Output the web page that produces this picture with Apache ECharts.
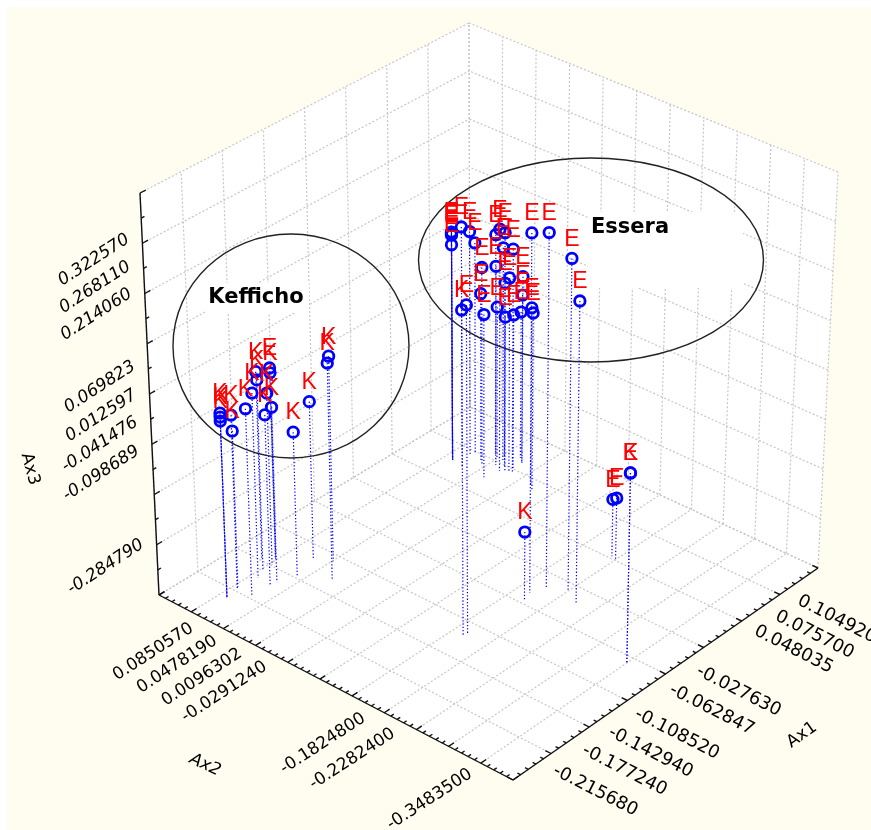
<!DOCTYPE html><html><head><meta charset="utf-8"><script src="https://cdn.jsdelivr.net/npm/echarts@6/dist/echarts.min.js"></script>
<style>html,body{margin:0;background:#fff}#c{width:871px;height:830px}</style></head><body><div id="c"></div>
<script>
// Data: each group's scores on the three axes
const esseraAx1=[0.077,0.077,0.077,0.077,0.077,0.073,0.093,0.098,0.107,0.090,0.112,-0.034,-0.020,-0.009,-0.021,0.087,0.095,0.105,0.096,0.110,0.094,0.099,0.113,0.093,-0.114,0.074,0.104,0.092,0.101,0.117,0.086,0.091,0.053,0.052,-0.058,-0.139];
const esseraAx2=[0.088,0.088,0.088,0.088,0.088,0.068,0.080,0.078,0.057,0.030,0.049,-0.168,-0.177,-0.198,-0.225,0.054,0.042,0.043,0.017,0.019,0.020,0.033,0.023,0.063,-0.167,0.035,0.051,0.024,0.022,0.030,-0.026,-0.018,-0.192,-0.199,-0.349,0.103];
const esseraAx3=[0.069,0.067,0.065,0.063,0.043,0.095,0.060,0.033,0.054,0.097,0.058,0.321,0.314,0.264,0.206,0.007,0.009,0.037,0.058,-0.013,-0.001,-0.024,-0.056,-0.058,0.251,-0.066,-0.089,-0.082,-0.085,-0.099,-0.038,-0.037,-0.285,-0.277,-0.026,-0.018];
const keffichoAx1=[-0.058,-0.119,-0.045,-0.213,-0.213,-0.213,-0.198,-0.194,-0.195,-0.172,-0.160,-0.149,-0.173,-0.166,-0.149,-0.141,-0.148,-0.119,-0.109,-0.131];
const keffichoAx2=[-0.349,-0.166,-0.173,0.089,0.089,0.089,0.091,0.095,0.072,0.090,0.097,0.112,0.070,0.068,0.096,0.100,0.058,0.068,0.049,0.024];
const keffichoAx3=[-0.026,0.245,-0.264,-0.032,-0.040,-0.048,-0.051,-0.089,-0.029,-0.030,-0.019,-0.022,-0.060,-0.050,-0.055,-0.024,-0.110,-0.082,0.012,0.034];
const ax1Labels=[-0.21568,-0.17724,-0.14294,-0.10852,-0.062847,-0.02763,0.048035,0.0757,0.10492];
const ax1Text=['-0.215680','-0.177240','-0.142940','-0.108520','-0.062847','-0.027630','0.048035','0.075700','0.104920'];
const ax2Labels=[0.085057,0.047819,0.0096302,-0.029124,-0.18248,-0.22824,-0.34835];
const ax2Text=['0.0850570','0.0478190','0.0096302','-0.0291240','-0.1824800','-0.2282400','-0.3483500'];
const ax3Labels=[0.32257,0.26811,0.21406,0.069823,0.012597,-0.041476,-0.098689,-0.28479];
const ax3Text=['0.322570','0.268110','0.214060','0.069823','0.012597','-0.041476','-0.098689','-0.284790'];
const ax1Range=[-0.25,0.15], ax2Range=[-0.4,0.15], ax3Range=[-0.4,0.4];
const ax1Step=0.05, ax2Step=0.05, ax3Step=0.1;

// Camera: where the eight box corners land in the picture
const floorC={F:[513,780],R:[818,568],L:[159,595],B:[470,407]};
const liftC={F:[0,-415],R:[20,-396],L:[-19,-402],B:[-1,-384]};
function bil(C,u,v,i){return C.F[i]*(1-u)*(1-v)+C.R[i]*u*(1-v)+C.L[i]*(1-u)*v+C.B[i]*u*v;}
function project(a1,a2,a3){
  const u=(a1-ax1Range[0])/(ax1Range[1]-ax1Range[0]),v=(a2-ax2Range[0])/(ax2Range[1]-ax2Range[0]),w=(a3-ax3Range[0])/(ax3Range[1]-ax3Range[0]);
  return [bil(floorC,u,v,0)+w*bil(liftC,u,v,0),bil(floorC,u,v,1)+w*bil(liftC,u,v,1)];
}
function steps(r,s,sub){const o=[];const n=Math.round((r[1]-r[0])/s*sub);for(let i=0;i<=n;i++)o.push({v:r[0]+(r[1]-r[0])*i/n,major:i%sub===0});return o;}
const [a1a,a1b]=ax1Range,[a2a,a2b]=ax2Range,[a3a,a3b]=ax3Range;
const seg=(p,q)=>[...project(...p),...project(...q)];

const faces=[
 [[a1a,a2a,a3a],[a1b,a2a,a3a],[a1b,a2b,a3a],[a1a,a2b,a3a]],
 [[a1a,a2b,a3a],[a1b,a2b,a3a],[a1b,a2b,a3b],[a1a,a2b,a3b]],
 [[a1b,a2a,a3a],[a1b,a2b,a3a],[a1b,a2b,a3b],[a1b,a2a,a3b]]
].map(f=>f.flatMap(p=>project(...p)));

const gridSegs=[];
steps(ax1Range,ax1Step,1).forEach(t=>{gridSegs.push(seg([t.v,a2a,a3a],[t.v,a2b,a3a]));gridSegs.push(seg([t.v,a2b,a3a],[t.v,a2b,a3b]));});
steps(ax2Range,ax2Step,1).forEach(t=>{gridSegs.push(seg([a1a,t.v,a3a],[a1b,t.v,a3a]));gridSegs.push(seg([a1b,t.v,a3a],[a1b,t.v,a3b]));});
steps(ax3Range,ax3Step,1).forEach(t=>{gridSegs.push(seg([a1a,a2b,t.v],[a1b,a2b,t.v]));gridSegs.push(seg([a1b,a2a,t.v],[a1b,a2b,t.v]));});

const axisSegs=[seg([a1a,a2b,a3b],[a1a,a2b,a3a]),seg([a1a,a2b,a3a],[a1a,a2a,a3a]),seg([a1a,a2a,a3a],[a1b,a2a,a3a])];
steps(ax1Range,ax1Step,5).forEach(t=>axisSegs.push(seg([t.v,a2a,a3a],[t.v,a2a+(t.major?0.009:0.005),a3a])));
steps(ax2Range,ax2Step,5).forEach(t=>axisSegs.push(seg([a1a,t.v,a3a],[a1a+(t.major?0.007:0.004),t.v,a3a])));
steps(ax3Range,ax3Step,2).forEach(t=>axisSegs.push(seg([a1a,a2b,t.v],[a1a+(t.major?0.007:0.004),a2b,t.v])));

const dropE=esseraAx1.map((a,i)=>seg([a,esseraAx2[i],esseraAx3[i]],[a,esseraAx2[i],a3a]));
const dropK=keffichoAx1.map((a,i)=>seg([a,keffichoAx2[i],keffichoAx3[i]],[a,keffichoAx2[i],a3a]));
const ptsE=esseraAx1.map((a,i)=>project(a,esseraAx2[i],esseraAx3[i]));
const ptsK=keffichoAx1.map((a,i)=>project(a,keffichoAx2[i],keffichoAx3[i]));

const FONT='"DejaVu Sans"', BLUE='#0000ff', RED='#ff0000';
const rad=d=>d*Math.PI/180;
const tickTexts=[
 ...ax1Labels.map((v,i)=>({value:project(v,a2a,a3a),t:ax1Text[i],dx:15,dy:8,rot:-27,align:'left',size:18})),
 ...ax2Labels.map((v,i)=>({value:project(a1a,v,a3a),t:ax2Text[i],dx:-9,dy:10,rot:33,align:'right'})),
 ...ax3Labels.map((v,i)=>({value:project(a1a,a2b,v),t:ax3Text[i],dx:-14,dy:6,rot:33,align:'right',italic:true})),
];
const axisTitles=[
 {value:[802,735],t:'Ax1',rot:35},
 {value:[205,765],t:'Ax2',rot:-25,italic:true},
 {value:[30,469],t:'Ax3',rot:-75},
];
const maskBoxes=[[588,212,155,76],[205,283,104,30]];
const groupRings=[[291,346,118,112],[591,260,172.5,102]];
const groupNames=[{value:[630,228],t:'Essera'},{value:[256,298],t:'Kefficho'}];
const pointLabels=[...ptsK.map(p=>({value:p,t:'K',dy:-19,color:RED,family:'"Liberation Sans"'})),...ptsE.map(p=>({value:p,t:'E',dy:-19,color:RED,family:'"Liberation Sans"'}))];

function segmentSeries(name,data,style,z){return {name,type:'custom',coordinateSystem:'cartesian2d',silent:true,z,clip:false,data,
  encode:{x:[0,2],y:[1,3]},
  renderItem:(p,api)=>{const a=api.coord([api.value(0),api.value(1)]),b=api.coord([api.value(2),api.value(3)]);
    return {type:'line',shape:{x1:a[0],y1:a[1],x2:b[0],y2:b[1]},style:{fill:null,...style}};}};}
function textSeries(name,data,size,weight,z){return {name,type:'custom',coordinateSystem:'cartesian2d',silent:true,z,clip:false,
  data:data.map(d=>d.value),
  renderItem:(p,api)=>{const d=data[p.dataIndex],c=api.coord([api.value(0),api.value(1)]);
    return {type:'text',x:c[0]+(d.dx||0),y:c[1]+(d.dy||0),rotation:rad(d.rot||0),
      style:{text:d.t,fontFamily:d.family||FONT,fontSize:d.size||size,fontWeight:weight,fontStyle:d.italic?'italic':'normal',fill:d.color||'#000',align:d.align||'center',verticalAlign:'middle'}};}};}
const pointSeries=(name,data)=>({name,type:'scatter',data,symbol:'circle',symbolSize:10.5,z:20,silent:true,
  itemStyle:{color:'transparent',borderColor:BLUE,borderWidth:2.8,opacity:1}});

const option={animation:false,backgroundColor:'#ffffff',
 grid:{left:7,top:7,right:0,bottom:0,show:true,backgroundColor:'#fffcf0',borderWidth:0},
 xAxis:{type:'value',min:7,max:871,show:false},
 yAxis:{type:'value',min:7,max:830,inverse:true,show:false},
 series:[
  {name:'faces',type:'custom',coordinateSystem:'cartesian2d',silent:true,z:1,data:faces,
   renderItem:(p,api)=>{const pts=[0,2,4,6].map(i=>api.coord([api.value(i),api.value(i+1)]));
     return {type:'polygon',shape:{points:pts},style:{fill:'#ffffff',stroke:null}};}},
  segmentSeries('grid',gridSegs,{stroke:'#c6c6c6',lineWidth:1.2,lineDash:[2,2]},2),
  {name:'masks',type:'custom',coordinateSystem:'cartesian2d',silent:true,z:3,data:maskBoxes,
   renderItem:(p,api)=>{const a=api.coord([api.value(0),api.value(1)]);
     return {type:'rect',shape:{x:a[0],y:a[1],width:api.value(2),height:api.value(3)},style:{fill:'#ffffff'}};}},
  segmentSeries('axes',axisSegs,{stroke:'#111',lineWidth:1.4},4),
  {name:'rings',type:'custom',coordinateSystem:'cartesian2d',silent:true,z:5,data:groupRings,
   renderItem:(p,api)=>{const a=api.coord([api.value(0),api.value(1)]);
     return {type:'ellipse',shape:{cx:a[0],cy:a[1],rx:api.value(2),ry:api.value(3)},style:{fill:'none',stroke:'#222',lineWidth:1.4}};}},
  segmentSeries('drop E',dropE,{stroke:BLUE,lineWidth:1.2,lineDash:[1.3,2]},6),
  segmentSeries('drop K',dropK,{stroke:BLUE,lineWidth:1.2,lineDash:[1.3,2]},6),
  textSeries('tick labels',tickTexts,17,'normal',7),
  textSeries('axis titles',axisTitles,17,'normal',7),
  textSeries('group names',groupNames,21,'bold',7),
  pointSeries('Kefficho',ptsK),
  pointSeries('Essera',ptsE),
  textSeries('point labels',pointLabels,23,'normal',21),
 ]};
echarts.init(document.getElementById('c'),null,{renderer:'canvas'}).setOption(option);
</script></body></html>
